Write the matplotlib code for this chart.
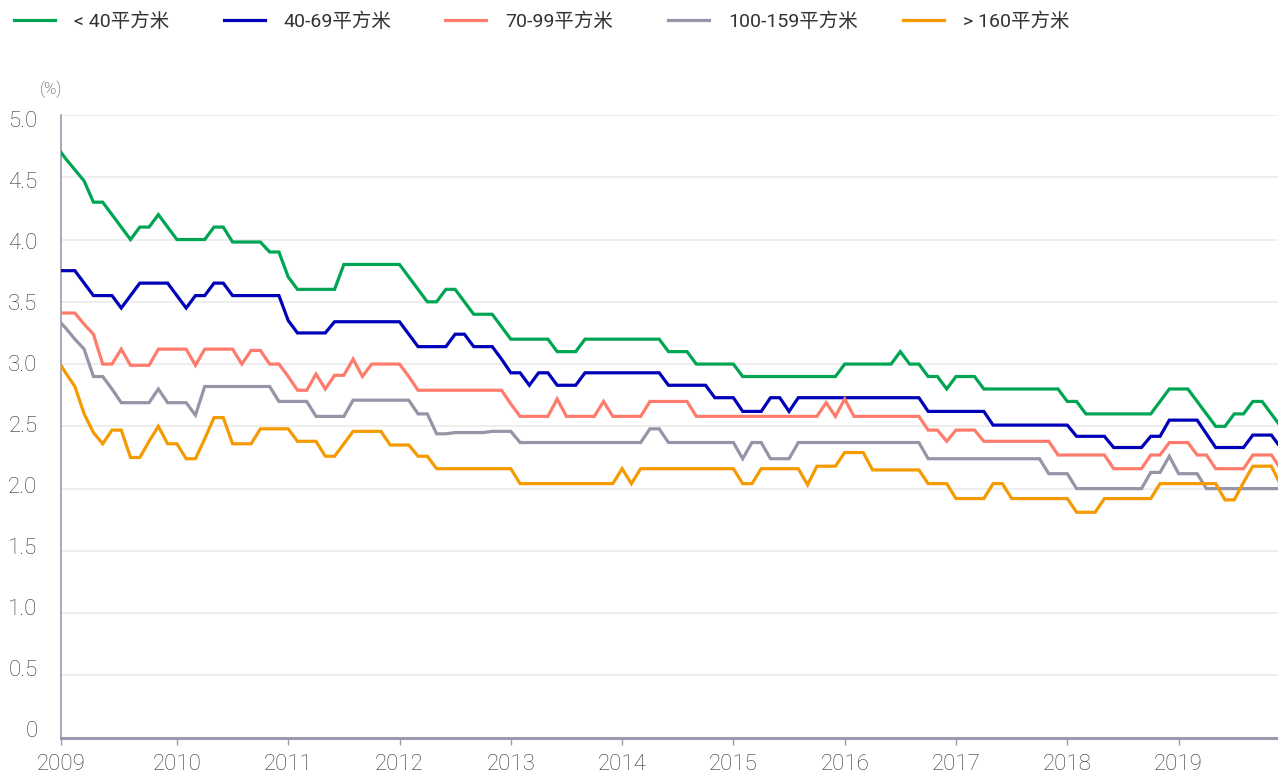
import numpy as np
import matplotlib
matplotlib.use('Agg')
import matplotlib.pyplot as plt
from matplotlib.transforms import ScaledTranslation

plt.rcParams['font.family'] = ['Roboto', 'Noto Sans CJK SC', 'DejaVu Sans']

# monthly values, Dec 2008 .. Dec 2019
months = np.arange(-1, 132)
x = 2009 + months / 12

labels = ['< 40平方米', '40-69平方米', '70-99平方米', '100-159平方米', '> 160平方米']
colors = ['#00a553', '#0000b8', '#ff7b6c', '#9595a8', '#f59a00']

under_40 = [4.75,
            4.65, 4.56, 4.47, 4.3, 4.3, 4.2, 4.1, 4.0, 4.1, 4.1, 4.2, 4.1,
            4.0, 4.0, 4.0, 4.0, 4.1, 4.1, 3.98, 3.98, 3.98, 3.98, 3.9, 3.9,
            3.7, 3.6, 3.6, 3.6, 3.6, 3.6, 3.8, 3.8, 3.8, 3.8, 3.8, 3.8,
            3.8, 3.7, 3.6, 3.5, 3.5, 3.6, 3.6, 3.5, 3.4, 3.4, 3.4, 3.3,
            3.2, 3.2, 3.2, 3.2, 3.2, 3.1, 3.1, 3.1, 3.2, 3.2, 3.2, 3.2,
            3.2, 3.2, 3.2, 3.2, 3.2, 3.1, 3.1, 3.1, 3.0, 3.0, 3.0, 3.0,
            3.0, 2.9, 2.9, 2.9, 2.9, 2.9, 2.9, 2.9, 2.9, 2.9, 2.9, 2.9,
            3.0, 3.0, 3.0, 3.0, 3.0, 3.0, 3.1, 3.0, 3.0, 2.9, 2.9, 2.8,
            2.9, 2.9, 2.9, 2.8, 2.8, 2.8, 2.8, 2.8, 2.8, 2.8, 2.8, 2.8,
            2.7, 2.7, 2.6, 2.6, 2.6, 2.6, 2.6, 2.6, 2.6, 2.6, 2.7, 2.8,
            2.8, 2.8, 2.7, 2.6, 2.5, 2.5, 2.6, 2.6, 2.7, 2.7, 2.6, 2.5]

s40_69 = [3.75,
          3.75, 3.75, 3.65, 3.55, 3.55, 3.55, 3.45, 3.55, 3.65, 3.65, 3.65, 3.65,
          3.55, 3.45, 3.55, 3.55, 3.65, 3.65, 3.55, 3.55, 3.55, 3.55, 3.55, 3.55,
          3.35, 3.25, 3.25, 3.25, 3.25, 3.34, 3.34, 3.34, 3.34, 3.34, 3.34, 3.34,
          3.34, 3.24, 3.14, 3.14, 3.14, 3.14, 3.24, 3.24, 3.14, 3.14, 3.14, 3.04,
          2.93, 2.93, 2.83, 2.93, 2.93, 2.83, 2.83, 2.83, 2.93, 2.93, 2.93, 2.93,
          2.93, 2.93, 2.93, 2.93, 2.93, 2.83, 2.83, 2.83, 2.83, 2.83, 2.73, 2.73,
          2.73, 2.62, 2.62, 2.62, 2.73, 2.73, 2.62, 2.73, 2.73, 2.73, 2.73, 2.73,
          2.73, 2.73, 2.73, 2.73, 2.73, 2.73, 2.73, 2.73, 2.73, 2.62, 2.62, 2.62,
          2.62, 2.62, 2.62, 2.62, 2.51, 2.51, 2.51, 2.51, 2.51, 2.51, 2.51, 2.51,
          2.51, 2.42, 2.42, 2.42, 2.42, 2.33, 2.33, 2.33, 2.33, 2.42, 2.42, 2.55,
          2.55, 2.55, 2.55, 2.44, 2.33, 2.33, 2.33, 2.33, 2.43, 2.43, 2.43, 2.33]

s70_99 = [3.41,
          3.41, 3.41, 3.32, 3.24, 3.0, 3.0, 3.12, 2.99, 2.99, 2.99, 3.12, 3.12,
          3.12, 3.12, 2.99, 3.12, 3.12, 3.12, 3.12, 3.0, 3.11, 3.11, 3.0, 3.0,
          2.9, 2.79, 2.79, 2.92, 2.8, 2.91, 2.91, 3.04, 2.9, 3.0, 3.0, 3.0,
          3.0, 2.9, 2.79, 2.79, 2.79, 2.79, 2.79, 2.79, 2.79, 2.79, 2.79, 2.79,
          2.68, 2.58, 2.58, 2.58, 2.58, 2.72, 2.58, 2.58, 2.58, 2.58, 2.7, 2.58,
          2.58, 2.58, 2.58, 2.7, 2.7, 2.7, 2.7, 2.7, 2.58, 2.58, 2.58, 2.58,
          2.58, 2.58, 2.58, 2.58, 2.58, 2.58, 2.58, 2.58, 2.58, 2.58, 2.69, 2.58,
          2.72, 2.58, 2.58, 2.58, 2.58, 2.58, 2.58, 2.58, 2.58, 2.47, 2.47, 2.38,
          2.47, 2.47, 2.47, 2.38, 2.38, 2.38, 2.38, 2.38, 2.38, 2.38, 2.38, 2.27,
          2.27, 2.27, 2.27, 2.27, 2.27, 2.16, 2.16, 2.16, 2.16, 2.27, 2.27, 2.37,
          2.37, 2.37, 2.27, 2.27, 2.16, 2.16, 2.16, 2.16, 2.27, 2.27, 2.27, 2.16]

s100_159 = [3.37,
            3.29, 3.2, 3.12, 2.9, 2.9, 2.8, 2.69, 2.69, 2.69, 2.69, 2.8, 2.69,
            2.69, 2.69, 2.59, 2.82, 2.82, 2.82, 2.82, 2.82, 2.82, 2.82, 2.82, 2.7,
            2.7, 2.7, 2.7, 2.58, 2.58, 2.58, 2.58, 2.71, 2.71, 2.71, 2.71, 2.71,
            2.71, 2.71, 2.6, 2.6, 2.44, 2.44, 2.45, 2.45, 2.45, 2.45, 2.46, 2.46,
            2.46, 2.37, 2.37, 2.37, 2.37, 2.37, 2.37, 2.37, 2.37, 2.37, 2.37, 2.37,
            2.37, 2.37, 2.37, 2.48, 2.48, 2.37, 2.37, 2.37, 2.37, 2.37, 2.37, 2.37,
            2.37, 2.24, 2.37, 2.37, 2.24, 2.24, 2.24, 2.37, 2.37, 2.37, 2.37, 2.37,
            2.37, 2.37, 2.37, 2.37, 2.37, 2.37, 2.37, 2.37, 2.37, 2.24, 2.24, 2.24,
            2.24, 2.24, 2.24, 2.24, 2.24, 2.24, 2.24, 2.24, 2.24, 2.24, 2.12, 2.12,
            2.12, 2.0, 2.0, 2.0, 2.0, 2.0, 2.0, 2.0, 2.0, 2.13, 2.13, 2.26,
            2.12, 2.12, 2.12, 2.0, 2.0, 2.0, 2.0, 2.0, 2.0, 2.0, 2.0, 2.0]

over_160 = [3.05,
            2.93, 2.82, 2.6, 2.45, 2.36, 2.47, 2.47, 2.25, 2.25, 2.38, 2.5, 2.36,
            2.36, 2.24, 2.24, 2.4, 2.57, 2.57, 2.36, 2.36, 2.36, 2.48, 2.48, 2.48,
            2.48, 2.38, 2.38, 2.38, 2.26, 2.26, 2.36, 2.46, 2.46, 2.46, 2.46, 2.35,
            2.35, 2.35, 2.26, 2.26, 2.16, 2.16, 2.16, 2.16, 2.16, 2.16, 2.16, 2.16,
            2.16, 2.04, 2.04, 2.04, 2.04, 2.04, 2.04, 2.04, 2.04, 2.04, 2.04, 2.04,
            2.16, 2.04, 2.16, 2.16, 2.16, 2.16, 2.16, 2.16, 2.16, 2.16, 2.16, 2.16,
            2.16, 2.04, 2.04, 2.16, 2.16, 2.16, 2.16, 2.16, 2.03, 2.18, 2.18, 2.18,
            2.29, 2.29, 2.29, 2.15, 2.15, 2.15, 2.15, 2.15, 2.15, 2.04, 2.04, 2.04,
            1.92, 1.92, 1.92, 1.92, 2.04, 2.04, 1.92, 1.92, 1.92, 1.92, 1.92, 1.92,
            1.92, 1.81, 1.81, 1.81, 1.92, 1.92, 1.92, 1.92, 1.92, 1.92, 2.04, 2.04,
            2.04, 2.04, 2.04, 2.04, 2.04, 1.91, 1.91, 2.05, 2.18, 2.18, 2.18, 2.03]

series = [under_40, s40_69, s70_99, s100_159, over_160]

W, H = 1278, 775
fig = plt.figure(figsize=(W / 100, H / 100), dpi=100)
ax = fig.add_axes([61 / W, (H - 737.7) / H, (W - 61) / W, (737.7 - 115) / H])

lines = []
for vals, col in zip(series, colors):
    ln, = ax.plot(x, vals, color=col, lw=2.3, solid_joinstyle='miter', zorder=3)
    lines.append(ln)

x_left = 2009 - 4.6 / 111.3
x_right = 2009 + (W - 65.6) / 111.3
ax.set_xlim(x_left, x_right)
ax.set_ylim(0, 5.0)

years = list(range(2010, 2020))
ax.set_xticks([x_left] + years)
ax.set_xticklabels(['2009'] + [str(y) for y in years])
yt = np.arange(0, 5.01, 0.5)
ax.set_yticks(yt)
ax.set_yticklabels(['0'] + ['%.1f' % v for v in yt[1:]])

ax.grid(axis='y', color='#ebebeb', lw=1.2, zorder=0)
ax.set_axisbelow(True)
for side in ['top', 'right']:
    ax.spines[side].set_visible(False)
ax.spines['left'].set_color('#9a9aae')
ax.spines['left'].set_linewidth(1.2)
ax.spines['bottom'].set_color('#9a9aae')
ax.spines['bottom'].set_linewidth(2.2)

ax.tick_params(axis='x', direction='out', length=5, width=1, color='#9a9aae',
               pad=7, labelsize=16, labelcolor='#333333')
ax.tick_params(axis='y', length=0, pad=17, labelsize=16, labelcolor='#333333')
for lab in ax.get_xticklabels() + ax.get_yticklabels():
    lab.set_fontweight('light')

# the y labels in the original sit a little off their gridlines
for v, lab in zip(yt, ax.get_yticklabels()):
    up = (8.7 - 2.5 * v) / 100
    lab.set_transform(lab.get_transform() + ScaledTranslation(0, up, fig.dpi_scale_trans))

fig.text(51 / W, 1 - 89 / H, '(%)', ha='center', va='center',
         fontsize=12, color='#333333', fontweight='light')

legend_x = [14, 224, 445, 668, 903]
for ln, lab, lx in zip(lines, labels, legend_x):
    fig.legend(handles=[ln], labels=[lab], loc='center left',
               bbox_to_anchor=(lx / W, 1 - 21.5 / H), frameon=False,
               borderpad=0, borderaxespad=0, handlelength=2.1,
               handletextpad=0.98,
               prop={'family': ['Roboto', 'Noto Sans CJK SC'], 'size': 14,
                     'weight': 'normal'},
               labelcolor='#333333')

fig.savefig('out.png', dpi=100)
